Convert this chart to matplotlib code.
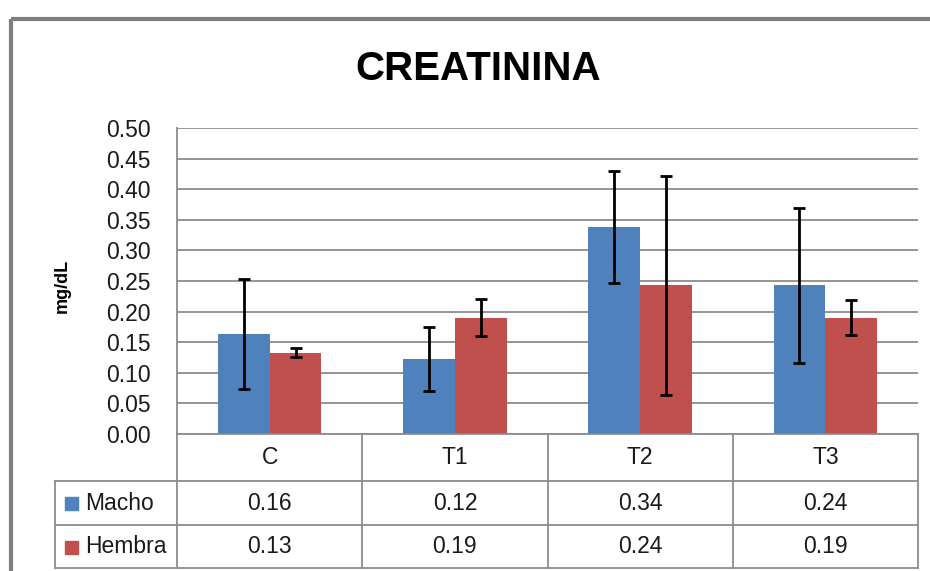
import numpy as np
import matplotlib.pyplot as plt
from matplotlib.patches import Rectangle

plt.rcParams['font.family'] = ['Liberation Sans', 'DejaVu Sans']

categorias = ['C', 'T1', 'T2', 'T3']
series = ['Macho', 'Hembra']
macho = [0.163, 0.123, 0.338, 0.243]
hembra = [0.133, 0.190, 0.243, 0.190]
err_macho = [0.090, 0.052, 0.092, 0.127]
err_hembra = [0.0075, 0.030, 0.179, 0.029]
yticks = np.arange(0, 0.501, 0.05)

azul = '#4F81BD'
rojo = '#C0504D'
gris = '#8C8C8C'

W, H = 930, 571
fig = plt.figure(figsize=(W / 100, H / 100), dpi=100)

# plot area in pixel coords (top-left origin): x 177..918, y 128..434
px0, px1, py0, py1 = 177, 918, 128, 434
ax = fig.add_axes([px0 / W, (H - py1) / H, (px1 - px0) / W, (py1 - py0) / H])

x = np.arange(len(categorias))
w = 0.28
ax.bar(x - w / 2, macho, w, color=azul, zorder=3)
ax.bar(x + w / 2, hembra, w, color=rojo, zorder=3)
ax.errorbar(x - w / 2, macho, yerr=err_macho, fmt='none', ecolor='black',
            elinewidth=2, capsize=4, capthick=2, zorder=4)
ax.errorbar(x + w / 2, hembra, yerr=err_hembra, fmt='none', ecolor='black',
            elinewidth=2, capsize=4, capthick=2, zorder=4)

ax.set_xlim(-0.5, len(categorias) - 0.5)
ax.set_ylim(0, 0.5)
ax.set_yticks(yticks)
ax.set_yticklabels([f'{v:.2f}' for v in yticks], fontsize=16.5, color='#1a1a1a')
ax.tick_params(axis='y', length=0, pad=19)
ax.set_xticks([])
ax.grid(axis='y', color=gris, linewidth=1.3, zorder=0)
for s in ['top', 'right', 'bottom']:
    ax.spines[s].set_visible(False)
ax.spines['left'].set_color(gris)
ax.spines['left'].set_linewidth(1.3)

# overlay in pixel coords for frame, title, label and data table
ov2 = fig.add_axes([0, 0, 1, 1], zorder=5)
ov2.set_xlim(0, W)
ov2.set_ylim(H, 0)
ov2.axis('off')
ov2.patch.set_alpha(0)

ov2.plot([11, W], [19, 19], color='#7F7F7F', lw=3, solid_capstyle='butt')
ov2.plot([11, 11], [19, H], color='#7F7F7F', lw=3, solid_capstyle='butt')

ov2.text(478, 69, 'CREATININA', ha='center', va='center', fontsize=29,
         fontweight='bold')
ov2.text(62, 286, 'mg/dL', ha='center', va='center', rotation=90,
         fontsize=13, fontweight='bold')

# table
bounds = [ax.transData.transform((i - 0.5, 0))[0] for i in range(len(categorias) + 1)]
rows_y = [434, 481, 525, 568]
tleft = 55
lc = dict(color=gris, lw=1.3)
ov2.plot([bounds[0], bounds[-1]], [rows_y[0], rows_y[0]], **lc)
for yy in rows_y[1:]:
    ov2.plot([tleft, bounds[-1]], [yy, yy], **lc)
for bx in bounds:
    ov2.plot([bx, bx], [rows_y[0], rows_y[-1]], **lc)
ov2.plot([tleft, tleft], [rows_y[1], rows_y[-1]], **lc)

for i, c in enumerate(categorias):
    cx = (bounds[i] + bounds[i + 1]) / 2
    ov2.text(cx, (rows_y[0] + rows_y[1]) / 2, c, ha='center', va='center',
             fontsize=16.5, color='#1a1a1a')

for r, (nombre, vals, col) in enumerate(zip(series, [macho, hembra], [azul, rojo])):
    cy = (rows_y[r + 1] + rows_y[r + 2]) / 2
    ov2.add_patch(Rectangle((65, cy - 6), 13, 13, color=col))
    ov2.text(85, cy, nombre, ha='left', va='center', fontsize=16.5, color='#1a1a1a')
    for i, v in enumerate(vals):
        cx = (bounds[i] + bounds[i + 1]) / 2
        ov2.text(cx, cy, f'{v:.2f}', ha='center', va='center', fontsize=16.5,
                 color='#1a1a1a')

fig.savefig('out.png', dpi=100)
